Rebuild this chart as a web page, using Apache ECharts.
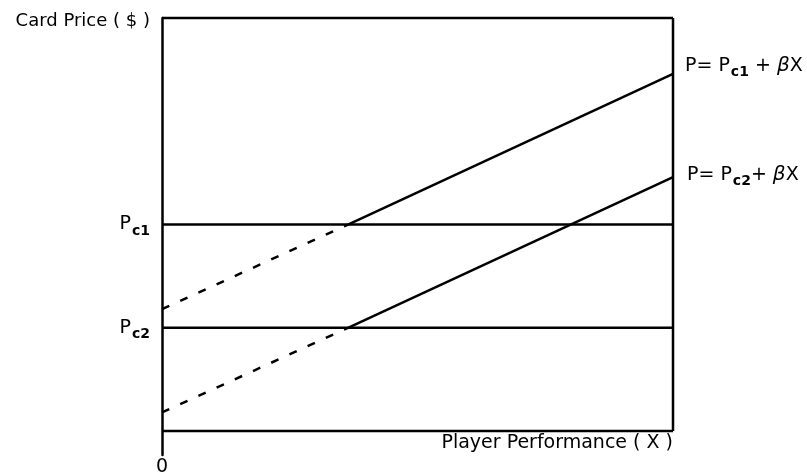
<!DOCTYPE html>
<html>
<head>
<meta charset="utf-8">
<script src="https://cdn.jsdelivr.net/npm/echarts@6/dist/echarts.min.js"></script>
<style>
  html, body { margin: 0; padding: 0; background: #fff; }
  #chart { width: 807px; height: 472px; }
</style>
</head>
<body>
<div id="chart"></div>
<script>
// price floors
var PC1 = 50;
var PC2 = 25;

// line P = Pc + bX, dashed below the floor, solid above
var line1Dashed = [[0, 29.5], [3.64, 50]];
var line1Solid = [[3.64, 50], [10, 86.5]];
var line2Dashed = [[0, 4.5], [3.64, 25]];
var line2Solid = [[3.64, 25], [10, 61.5]];

// horizontal floors
var floor1 = [[0, PC1], [10, PC1]];
var floor2 = [[0, PC2], [10, PC2]];

// box round the diagram
var frameTop = [[0, 100], [10, 100]];
var frameRight = [[10, 0], [10, 100]];
var frameBottom = [[0, 0], [10, 0]];

var yLabelValues = [PC2, PC1, 100];
var xLabelValues = [0];

var FONT = 'DejaVu Sans';

var chartDom = document.getElementById('chart');
var myChart = echarts.init(chartDom);

var rich = {
  t: { fontFamily: FONT, fontSize: 18, color: '#000', padding: [6, 0, 0, 0] },
  p: { fontFamily: FONT, fontSize: 19, color: '#000' },
  s: { fontFamily: FONT, fontSize: 14, color: '#000', fontWeight: 'bold', padding: [13, 0, 0, 1] },
  b: { fontFamily: FONT, fontSize: 20, fontStyle: 'italic', color: '#000' }
};

function solid(data) {
  return {
    type: 'line',
    data: data,
    showSymbol: false,
    symbol: 'none',
    clip: false,
    silent: true,
    lineStyle: { color: '#000', width: 2.5 }
  };
}

function dashed(data) {
  var s = solid(data);
  s.lineStyle = { color: '#000', width: 2.5, type: [8, 12] };
  return s;
}

function withLabel(s, text, offset) {
  s.endLabel = {
    show: true,
    formatter: text,
    rich: rich,
    offset: offset
  };
  return s;
}

var option = {
  animation: false,
  backgroundColor: '#fff',
  grid: { left: 162, right: 134, top: 18, bottom: 17, outerBoundsMode: 'none', containLabel: false },
  xAxis: {
    type: 'value',
    min: 0,
    max: 10,
    axisLine: { show: false },
    axisTick: { show: false },
    splitLine: { show: false },
    axisLabel: {
      customValues: xLabelValues,
      color: '#000',
      fontFamily: FONT,
      fontSize: 19,
      margin: 3
    }
  },
  yAxis: {
    type: 'value',
    min: -5.8,
    max: 100,
    axisLine: { show: true, lineStyle: { color: '#000', width: 2.5 } },
    axisTick: { show: false },
    splitLine: { show: false },
    axisLabel: {
      customValues: yLabelValues,
      margin: 12,
      color: '#000',
      fontFamily: FONT,
      fontSize: 18,
      rich: rich,
      formatter: function (value) {
        if (value === 100) return '{t|Card Price ( $ )}';
        if (value === PC1) return '{p|P}{s|c1}';
        if (value === PC2) return '{p|P}{s|c2}';
        return '';
      }
    }
  },
  graphic: [
    {
      type: 'text',
      right: 134,
      top: 434,
      style: {
        text: 'Player Performance ( X )',
        fill: '#000',
        font: '19px "DejaVu Sans"'
      }
    }
  ],
  series: [
    solid(frameTop),
    solid(frameRight),
    solid(frameBottom),
    solid(floor1),
    solid(floor2),
    dashed(line1Dashed),
    dashed(line2Dashed),
    withLabel(solid(line1Solid), '{p|P= P}{s|c1}{p| + }{b|β}{p|X}', [4, -8]),
    withLabel(solid(line2Solid), '{p|P= P}{s|c2}{p|+ }{b|β}{p|X}', [6, -2])
  ]
};

myChart.setOption(option);
</script>
</body>
</html>
